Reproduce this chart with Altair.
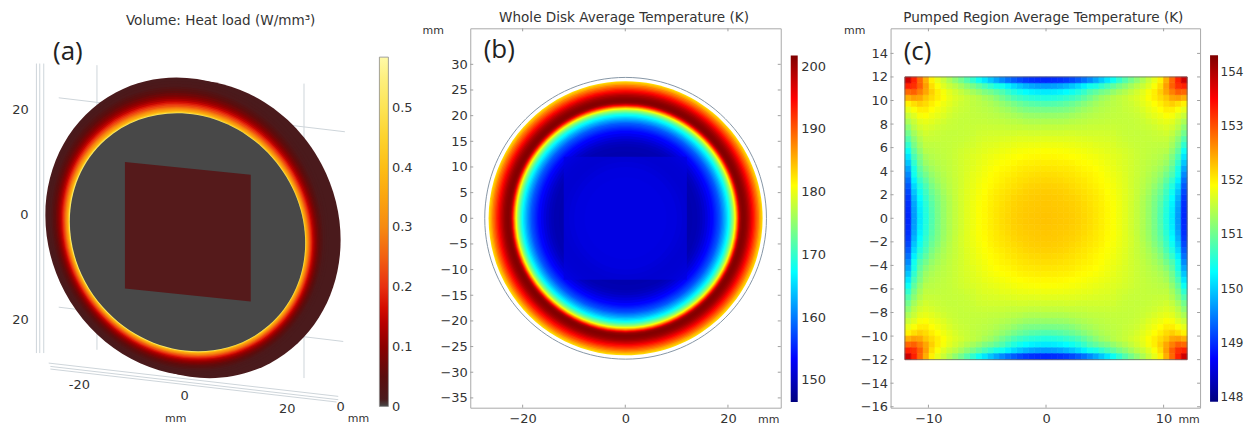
import altair as alt
import pandas as pd

FONT = "DejaVu Sans"
TXT = "#333333"
CIRCLE = "M-1,0 A1,1 0 1 1 1,0 A1,1 0 1 1 -1,0 Z"
ELLIPSE = "M-1,0 A1,0.913 0 1 1 1,0 A1,0.913 0 1 1 -1,0 Z"
H = 380

JET = ["#00007f", "#0000ff", "#00ffff", "#ffff00", "#ff0000", "#7f0000"]
JET_POS = [0, 0.125, 0.375, 0.625, 0.875, 1]
HEAT_COLORS = ["#484848", "#4a1a1c", "#5a0d0d", "#8b0000", "#b80000", "#d40c00", "#e83010", "#f26010",
               "#f68a10", "#fba50f", "#fdbe15", "#fdd32d", "#fde455", "#fdf080", "#fffaa8"]
HEAT_STOPS = [0, 0.012, 0.05, 0.1, 0.14, 0.165, 0.2, 0.25, 0.3, 0.35, 0.4, 0.45, 0.5, 0.55, 0.584]

# Panel (a): rings of the tilted disk, outer to inner
A_R = [27.0, 26.5, 26.1, 25.7, 25.4, 25.1, 24.8, 24.5, 24.25, 24.0, 23.75, 23.5, 23.3, 23.1, 22.9, 22.75, 22.6, 22.45,
       22.3, 22.2, 22.12, 22.05, 22.0]
A_V = [0.012, 0.014, 0.018, 0.03, 0.042, 0.055, 0.07, 0.088, 0.105, 0.125, 0.15, 0.18, 0.205, 0.235, 0.265, 0.29,
       0.32, 0.35, 0.39, 0.42, 0.46, 0.5, 0.53]
A_CY = [1.0, 0.9, 0.82, 0.74, 0.68, 0.62, 0.56, 0.5, 0.45, 0.4, 0.35, 0.3, 0.26, 0.22, 0.18, 0.15, 0.12, 0.09,
        0.06, 0.04, 0.02, 0.01, 0.0]
A_ANG = [62, 60.65, 59.6, 58.5, 57.7, 56.9, 56.1, 55.3, 54.6, 53.9, 53.2, 52.6, 52, 51.5, 50.9, 50.5, 50.1, 49.7,
         49.3, 49, 48.8, 48.6, 48.5]
A_INNER_R = 21.95
A_SIDE = (2.0, 0.6, 27.0)
A_SQ_X = [-11.11, 11.23]
A_SQ_TOP = [12.47, 10.22]
A_SQ_BOT = [-9.99, -12.29]
A_LINES = [
    (-26.83, 29.96, -26.83, -21.45), (-26.24, 29.96, -26.24, -21.45), (-25.53, 29.96, -25.53, -21.45),
    (-16.08, 29.67, -16.08, -20.86), (20.69, 26.4, 20.69, -25.89),
    (-22.87, 23.88, 27.95, 17.85), (-22.87, -13.3, 27.66, -19.39),
    (-24.65, -23.23, 26.77, -29.14), (-24.35, -23.82, 26.77, -29.73), (-24.35, -24.29, 26.48, -30.14),
]
A_TEXT = ["20", "0", "20", "-20", "0", "20", "0"]
A_TEXT_X = [-29.67, -28.96, -29.67, -19.2, -0.53, 17.73, 27.19]
A_TEXT_Y = [21.69, 3.07, -15.54, -27.07, -29.14, -31.38, -31.03]

# Panel (b): radial temperature profile, outer to inner
B_R = [26.7, 26.5, 26.25, 26.0, 25.75, 25.5, 25.25, 25.0, 24.75, 24.5, 24.25, 24.0, 23.75, 23.5, 23.25, 23.0, 22.75,
       22.5, 22.35, 22.2, 22.1, 22.0, 21.9, 21.8, 21.7, 21.6, 21.5, 21.4, 21.3, 21.2, 21.1, 21.0, 20.85, 20.7, 20.55,
       20.4, 20.2, 20.0, 19.75, 19.5, 19.25, 19.0, 18.75, 18.5, 18.25, 18.0, 17.75, 17.5, 17.25, 17.0, 16.5, 16.0,
       15.5, 15.0, 14.5, 14.0, 13.0, 12.0, 11.0, 10.0, 8.0]
B_T = [183, 184.5, 186, 188, 189.5, 191, 192.5, 194, 195.5, 197, 198.3, 199.5, 200.4, 201, 201.4, 201.5, 201,
       200, 198.7, 197, 195, 193, 191, 189, 187, 185, 183, 181, 179.5, 178, 176.5, 175, 173.5, 172, 170.5,
       169, 167.5, 166, 164.5, 163, 161.7, 160.5, 159.2, 158, 157.2, 156.5, 155.7, 155, 154.2, 153.5, 152.5, 151.5,
       150.7, 150, 149.6, 149.2, 149, 149.5, 150.5, 151.5, 152]
B_STOPS = [146.45, 153.36, 167.17, 180.98, 194.79, 201.7]
B_XT = [-20, 0, 20]
B_YT = [30, 25, 20, 15, 10, 5, 0, -5, -10, -15, -20, -25, -30, -35]

# Panel (c): upper triangle of one quadrant, cell centres every 0.5 mm from the centre outward
C_T = [
    [152.27, 152.26, 152.25, 152.24, 152.22, 152.19, 152.15, 152.11, 152.06, 152.00, 151.94, 151.88, 151.80, 151.72, 151.62, 151.52, 151.40, 151.25, 151.05, 150.80, 150.50, 150.18, 149.68, 148.95],
    [152.25, 152.24, 152.23, 152.21, 152.18, 152.14, 152.10, 152.05, 152.00, 151.94, 151.88, 151.80, 151.72, 151.62, 151.52, 151.40, 151.25, 151.06, 150.82, 150.52, 150.20, 149.70, 148.97],
    [152.23, 152.22, 152.20, 152.17, 152.13, 152.09, 152.04, 151.99, 151.93, 151.87, 151.80, 151.71, 151.62, 151.52, 151.40, 151.26, 151.07, 150.85, 150.56, 150.24, 149.75, 149.00],
    [152.20, 152.18, 152.15, 152.11, 152.07, 152.03, 151.98, 151.92, 151.86, 151.79, 151.71, 151.63, 151.53, 151.41, 151.28, 151.10, 150.90, 150.62, 150.30, 149.83, 149.06],
    [152.15, 152.12, 152.09, 152.05, 152.01, 151.96, 151.90, 151.85, 151.78, 151.71, 151.63, 151.54, 151.44, 151.32, 151.15, 150.97, 150.69, 150.39, 149.94, 149.15],
    [152.09, 152.06, 152.02, 151.98, 151.93, 151.88, 151.83, 151.76, 151.70, 151.62, 151.54, 151.46, 151.36, 151.22, 151.05, 150.78, 150.50, 150.07, 149.27],
    [152.03, 151.99, 151.95, 151.91, 151.86, 151.81, 151.75, 151.69, 151.62, 151.55, 151.48, 151.40, 151.29, 151.14, 150.90, 150.63, 150.22, 149.41],
    [151.97, 151.93, 151.89, 151.84, 151.79, 151.74, 151.68, 151.62, 151.56, 151.50, 151.43, 151.34, 151.23, 151.03, 150.80, 150.40, 149.57],
    [151.90, 151.86, 151.82, 151.77, 151.72, 151.67, 151.62, 151.56, 151.51, 151.46, 151.40, 151.31, 151.16, 150.90, 150.45, 149.75],
    [151.83, 151.79, 151.75, 151.70, 151.66, 151.62, 151.57, 151.52, 151.48, 151.44, 151.38, 151.28, 151.02, 150.60, 149.95],
    [151.76, 151.72, 151.69, 151.65, 151.61, 151.57, 151.53, 151.50, 151.47, 151.43, 151.35, 151.10, 150.75, 150.15],
    [151.69, 151.66, 151.63, 151.60, 151.56, 151.53, 151.51, 151.49, 151.47, 151.44, 151.22, 150.90, 150.37],
    [151.62, 151.60, 151.57, 151.55, 151.53, 151.52, 151.51, 151.50, 151.50, 151.33, 151.05, 150.60],
    [151.57, 151.55, 151.54, 151.53, 151.53, 151.54, 151.55, 151.55, 151.42, 151.18, 150.82],
    [151.54, 151.53, 151.53, 151.54, 151.56, 151.58, 151.62, 151.52, 151.32, 151.02],
    [151.54, 151.55, 151.57, 151.60, 151.64, 151.68, 151.62, 151.46, 151.20],
    [151.57, 151.61, 151.66, 151.72, 151.76, 151.72, 151.56, 151.38],
    [151.68, 151.74, 151.80, 151.88, 151.85, 151.70, 151.56],
    [151.82, 151.90, 152.00, 152.00, 151.87, 151.75],
    [152.00, 152.12, 152.20, 152.10, 151.98],
    [152.25, 152.45, 152.50, 152.40],
    [152.70, 152.90, 152.85],
    [153.20, 153.30],
    [153.80],
]
C_STEP = 0.5
C_STOPS = [147.9, 148.7, 150.3, 151.9, 153.5, 154.3]
C_XT = [-10, 0, 10]
C_YT = [14, 12, 10, 8, 6, 4, 2, 0, -2, -4, -6, -8, -10, -12, -14, -16]

A_TICKS = [0, 0.1, 0.2, 0.3, 0.4, 0.5]
B_TICKS = [150, 160, 170, 180, 190, 200]
C_TICKS = [148, 149, 150, 151, 152, 153, 154]


def label(text, x, y, size=13.6, font=FONT, color=TXT):
    return alt.Chart(pd.DataFrame({"t": [text]})).mark_text(
        text=text, font=font, fontSize=size, color=color, align="center", baseline="middle"
    ).encode(x=alt.value(x), y=alt.value(y))


def rings(df, xs, ys, ss, cs, shape, xa=None, ya=None):
    enc = dict(
        x=alt.X("cx:Q", scale=xs, axis=xa, title=None),
        y=alt.Y("cy:Q", scale=ys, axis=ya, title=None),
        size=alt.Size("r:Q", scale=ss, legend=None),
        color=alt.Color("v:Q", scale=cs, legend=None),
    )
    if "ang" in df:
        enc["angle"] = alt.Angle("ang:Q", scale=alt.Scale(domain=[0, 360], range=[0, 360]), legend=None)
    return alt.Chart(df).mark_point(shape=shape, filled=True, opacity=1, strokeWidth=0).encode(**enc)


def frame_ticks(xvals, yvals, w, xa, ya):
    d = pd.DataFrame({"x": xvals})
    e = pd.DataFrame({"y": yvals})
    col = "#a0a0a0"
    xe = alt.X("x:Q", axis=xa, title=None)
    ye = alt.Y("y:Q", axis=ya, title=None)
    return [
        alt.Chart(d).mark_rule(color=col, strokeWidth=1).encode(x=xe, y=alt.value(0), y2=alt.value(3)),
        alt.Chart(d).mark_rule(color=col, strokeWidth=1).encode(x=xe, y=alt.value(H - 3), y2=alt.value(H)),
        alt.Chart(e).mark_rule(color=col, strokeWidth=1).encode(y=ye, x=alt.value(0), x2=alt.value(3)),
        alt.Chart(e).mark_rule(color=col, strokeWidth=1).encode(y=ye, x=alt.value(w - 3), x2=alt.value(w)),
    ]


def colorbar(lo, hi, domain, ticks, cols, pos, w, fmt, stroke=None, size=13, pad=3):
    stops = [alt.GradientStop(color=c, offset=p) for c, p in zip(cols, pos)]
    grad = alt.LinearGradient(gradient="linear", stops=stops, x1=0, x2=0, y1=1, y2=0)
    kw = {"stroke": stroke, "strokeWidth": 0.8} if stroke else {}
    return alt.Chart(pd.DataFrame({"lo": [lo], "hi": [hi]})).mark_rect(fill=grad, **kw).encode(
        x=alt.value(0), x2=alt.value(w),
        y=alt.Y("lo:Q", title=None, scale=alt.Scale(domain=domain, nice=False, zero=False),
                axis=alt.Axis(orient="right", values=ticks, ticks=False, domain=False, grid=False, format=fmt,
                              labelFont=FONT, labelFontSize=size, labelColor=TXT, labelPadding=pad)),
        y2="hi:Q",
    ).properties(width=w, height=H)


def spacer(w):
    return alt.Chart(pd.DataFrame({"v": [0]})).mark_point(opacity=0).encode(
        x=alt.value(0), y=alt.value(0)).properties(width=w, height=H)


# ---------- panel a ----------
ax = alt.Scale(domain=[-31.70, 34.08], nice=False, zero=False)
ay = alt.Scale(domain=[-31.15, 36.22], nice=False, zero=False)
asz = alt.Scale(type="pow", exponent=2, domain=[0, 30], range=[0, 114514])
acl = alt.Scale(domain=HEAT_STOPS, range=HEAT_COLORS, interpolate="rgb")

lines_df = pd.DataFrame(
    [{"id": i, "x": a, "y": b} for i, l in enumerate(A_LINES) for a, b in (l[:2], l[2:])]
)
a_lines = alt.Chart(lines_df).mark_line(color="#ced5da", strokeWidth=1).encode(
    x=alt.X("x:Q", scale=ax, axis=None), y=alt.Y("y:Q", scale=ay, axis=None), detail="id:N")

side = pd.DataFrame({"cx": [A_SIDE[0]], "cy": [A_SIDE[1]], "r": [A_SIDE[2]], "v": [0.012], "ang": [62]})
ring_df = pd.DataFrame({"cx": [-0.05] * len(A_R), "cy": A_CY, "r": A_R, "v": A_V, "ang": A_ANG})
inner = pd.DataFrame({"cx": [0], "cy": [0], "r": [A_INNER_R], "v": [0], "ang": [48.5]})
a_side = rings(side, ax, ay, asz, acl, ELLIPSE)
a_rings = rings(ring_df, ax, ay, asz, acl, ELLIPSE)
a_inner = rings(inner, ax, ay, asz, acl, ELLIPSE)
a_sq = alt.Chart(pd.DataFrame({"x": A_SQ_X, "t": A_SQ_TOP, "b": A_SQ_BOT})).mark_area(
    color="#551a1b", opacity=1, line=False).encode(
    x=alt.X("x:Q", scale=ax, axis=None), y=alt.Y("t:Q", scale=ay, axis=None), y2="b:Q")
a_txt = alt.Chart(pd.DataFrame({"t": A_TEXT, "x": A_TEXT_X, "y": A_TEXT_Y})).mark_text(
    font=FONT, fontSize=13, color=TXT).encode(
    x=alt.X("x:Q", scale=ax, axis=None), y=alt.Y("y:Q", scale=ay, axis=None), text="t:N")

panel_a = alt.layer(
    a_lines, a_side, a_rings, a_inner, a_sq, a_txt,
    label("Volume: Heat load (W/mm³)", 212, -7),
    label("(a)", 59, 24, size=26, font="Open Sans", color="#222222"),
    label("mm", 167, 391, size=11), label("mm", 350, 391, size=11),
).properties(width=371, height=H)

# ---------- panel b ----------
bx = alt.Scale(domain=[-30.21, 30.29], nice=False, zero=False)
by = alt.Scale(domain=[-36.91, 37.02], nice=False, zero=False)
bsz = alt.Scale(type="pow", exponent=2, domain=[0, 30], range=[0, (2 * 30 * 5.14) ** 2])
bcl = alt.Scale(domain=B_STOPS, range=JET, interpolate="rgb")


def main_axes(xvals, yvals):
    return (
        alt.Axis(values=xvals, ticks=False, domain=False, grid=False, labelFont=FONT, labelFontSize=13,
                 labelColor=TXT, labelPadding=5, format="d"),
        alt.Axis(values=yvals, ticks=False, domain=False, grid=False, labelFont=FONT, labelFontSize=13,
                 labelColor=TXT, labelPadding=3, format="d"),
    )


bxa, bya = main_axes(B_XT, B_YT)
b_out = alt.Chart(pd.DataFrame({"cx": [0.06], "cy": [0], "r": [27.45]})).mark_point(
    shape=CIRCLE, filled=False, stroke="#8797a6", strokeWidth=1, opacity=1).encode(
    x=alt.X("cx:Q", scale=bx, axis=bxa, title=None), y=alt.Y("cy:Q", scale=by, axis=bya, title=None),
    size=alt.Size("r:Q", scale=bsz, legend=None))
b_df = pd.DataFrame({"cx": [0.06] * len(B_R), "cy": [0] * len(B_R), "r": B_R, "v": B_T})
b_rings = rings(b_df, bx, by, bsz, bcl, CIRCLE, bxa, bya)
b_sq = alt.Chart(pd.DataFrame({"x": [-12], "x2": [12], "y": [-12], "y2": [12]})).mark_rect(
    fill="#0000df", opacity=0.7).encode(
    x=alt.X("x:Q", scale=bx, axis=bxa, title=None), x2="x2:Q",
    y=alt.Y("y:Q", scale=by, axis=bya, title=None), y2="y2:Q")

panel_b = alt.layer(
    b_out, b_rings, b_sq, *frame_ticks(B_XT, B_YT, 311, bxa, bya),
    label("Whole Disk Average Temperature (K)", 154, -10),
    label("(b)", 29, 22, size=26, font="Open Sans", color="#222222"),
    label("mm", 299, 392, size=11), label("mm", -37, 3, size=11),
).properties(width=311, height=H, view=alt.ViewBackground(stroke="#aaaaaa", strokeWidth=1))

# ---------- panel c ----------
cx = alt.Scale(domain=[-13.22, 13.10], nice=False, zero=False)
cy = alt.Scale(domain=[-16.08, 16.13], nice=False, zero=False)
ccl = alt.Scale(domain=C_STOPS, range=JET, interpolate="rgb")
N = len(C_T)
grid = [[0.0] * N for _ in range(N)]
for j, row in enumerate(C_T):
    for k, val in enumerate(row):
        grid[j][j + k] = val
        grid[j + k][j] = val
cells = []
for j, row in enumerate(grid):
    for i, val in enumerate(row):
        for sx in (-1, 1):
            for sy in (-1, 1):
                x0, x1 = sorted((sx * i * C_STEP, sx * (i + 1) * C_STEP))
                y0, y1 = sorted((sy * j * C_STEP, sy * (j + 1) * C_STEP))
                cells.append({"x": x0, "x2": x1, "y": y0, "y2": y1, "v": val})
c_df = pd.DataFrame(cells)
cxa, cya = main_axes(C_XT, C_YT)
c_cells = alt.Chart(c_df).mark_rect(strokeWidth=0.7).encode(
    x=alt.X("x:Q", scale=cx, axis=cxa, title=None), x2="x2:Q",
    y=alt.Y("y:Q", scale=cy, axis=cya, title=None), y2="y2:Q",
    color=alt.Color("v:Q", scale=ccl, legend=None),
    stroke=alt.Stroke("v:Q", scale=ccl, legend=None),
)
c_box = alt.Chart(pd.DataFrame({"x": [-12], "x2": [12], "y": [-12], "y2": [12]})).mark_rect(
    fill="transparent", stroke="#666666", strokeWidth=0.8).encode(
    x=alt.X("x:Q", scale=cx, axis=cxa, title=None), x2="x2:Q",
    y=alt.Y("y:Q", scale=cy, axis=cya, title=None), y2="y2:Q")

panel_c = alt.layer(
    c_cells, c_box, *frame_ticks(C_XT, C_YT, 310, cxa, cya),
    label("Pumped Region Average Temperature (K)", 153, -10),
    label("(c)", 27, 24, size=26, font="Open Sans", color="#222222"),
    label("mm", 299, 392, size=11), label("mm", -36, 3, size=11),
).properties(width=310, height=H, view=alt.ViewBackground(stroke="#aaaaaa", strokeWidth=1))

# ---------- colour bars ----------
bar_a = colorbar(0, 0.584, [-0.00217, 0.6322], A_TICKS, HEAT_COLORS,
                 [s / 0.584 for s in HEAT_STOPS], 9, "~g", stroke="#8a8a8a")
bar_b = colorbar(146.45, 201.7, [145.54, 206.05], B_TICKS, JET, JET_POS, 7, "d")
bar_c = colorbar(147.9, 154.3, [147.79, 154.80], C_TICKS, JET, JET_POS, 8, "d", size=12, pad=2)

chart = alt.hconcat(
    panel_a, bar_a, spacer(82), panel_b, spacer(10), bar_b, spacer(93), panel_c, spacer(10), bar_c,
    spacing=0, bounds="flush",
).resolve_scale(color="independent", size="independent", x="independent", y="independent").configure_view(
    stroke="transparent"
).properties(padding={"left": 0, "top": 2, "right": 0, "bottom": 0}, background="white")

chart.save("out.html", embed_options={"renderer": "svg", "actions": False})
